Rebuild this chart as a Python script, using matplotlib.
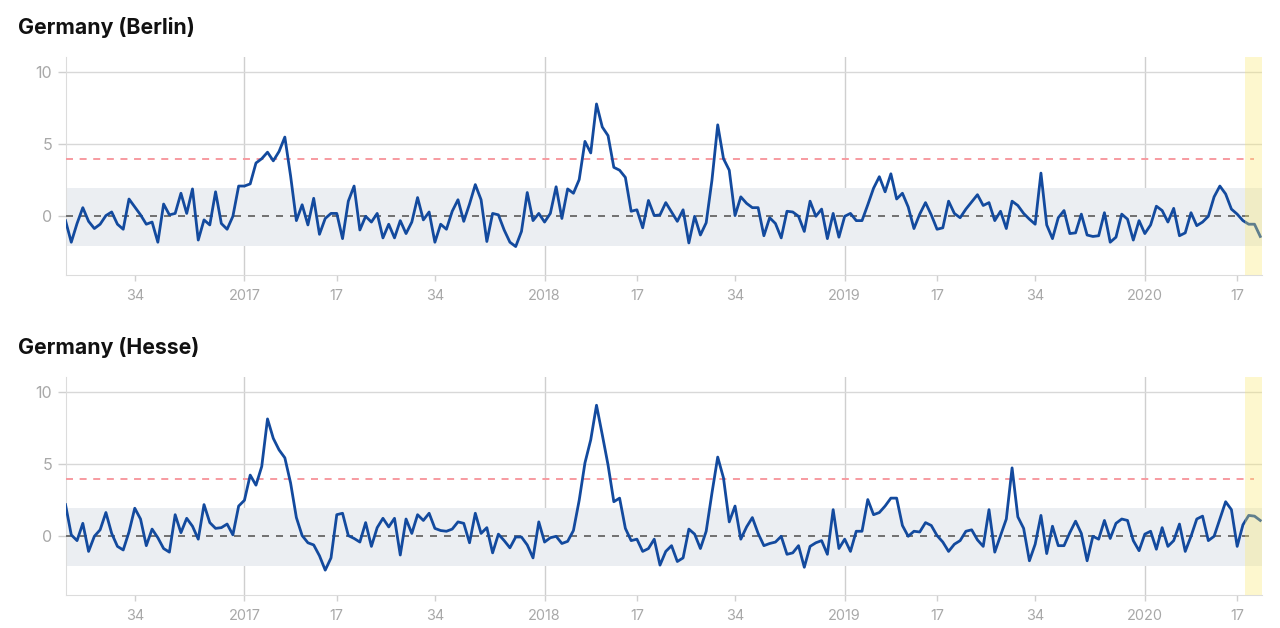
import matplotlib
matplotlib.use('Agg')
import matplotlib.pyplot as plt

berlin = [-0.3, -1.8, -0.5, 0.6, -0.35, -0.85, -0.55, 0.05, 0.3, -0.55,
          -0.9, 1.2, 0.65, 0.1, -0.55, -0.4, -1.8, 0.85, 0.1, 0.2,
          1.6, 0.2, 1.9, -1.65, -0.25, -0.6, 1.7, -0.5, -0.9, 0.0,
          2.1, 2.1, 2.25, 3.7, 4.0, 4.45, 3.85, 4.5, 5.5, 2.8,
          -0.3, 0.8, -0.6, 1.25, -1.25, -0.15, 0.2, 0.2, -1.55, 1.05,
          2.1, -0.95, 0.0, -0.4, 0.2, -1.5, -0.55, -1.5, -0.3, -1.2,
          -0.4, 1.3, -0.25, 0.3, -1.8, -0.55, -0.9, 0.35, 1.15, -0.35,
          0.85, 2.2, 1.15, -1.75, 0.2, 0.1, -0.95, -1.8, -2.1, -1.05,
          1.65, -0.3, 0.2, -0.4, 0.2, 2.05, -0.15, 1.9, 1.6, 2.55,
          5.2, 4.4, 7.8, 6.2, 5.6, 3.4, 3.2, 2.7, 0.35, 0.45,
          -0.8, 1.1, 0.05, 0.1, 0.95, 0.3, -0.35, 0.45, -1.85, 0.0,
          -1.3, -0.45, 2.5, 6.35, 4.0, 3.2, 0.05, 1.35, 0.9, 0.6,
          0.6, -1.35, -0.1, -0.5, -1.5, 0.35, 0.3, 0.0, -1.05, 1.05,
          0.0, 0.5, -1.55, 0.2, -1.45, 0.0, 0.2, -0.3, -0.3, 0.8,
          1.95, 2.75, 1.7, 2.95, 1.2, 1.6, 0.65, -0.85, 0.15, 0.95,
          0.1, -0.9, -0.8, 1.05, 0.2, -0.1, 0.5, 1.0, 1.5, 0.75,
          0.95, -0.3, 0.35, -0.85, 1.05, 0.75, 0.2, -0.2, -0.55, 3.0,
          -0.6, -1.55, -0.1, 0.4, -1.2, -1.15, 0.15, -1.3, -1.4, -1.35,
          0.25, -1.8, -1.45, 0.15, -0.2, -1.65, -0.3, -1.2, -0.6, 0.7,
          0.4, -0.4, 0.55, -1.35, -1.15, 0.25, -0.65, -0.4, 0.0, 1.35,
          2.1, 1.55, 0.5, 0.15, -0.3, -0.55, -0.55, -1.4]

hesse = [2.2, 0.1, -0.3, 0.9, -1.05, 0.0, 0.45, 1.65, 0.2, -0.7,
         -0.95, 0.3, 1.95, 1.2, -0.65, 0.5, -0.1, -0.85, -1.1, 1.5,
         0.25, 1.25, 0.7, -0.2, 2.2, 0.95, 0.55, 0.6, 0.85, 0.1,
         2.1, 2.5, 4.25, 3.55, 4.85, 8.15, 6.8, 6.0, 5.45, 3.7,
         1.3, 0.05, -0.45, -0.6, -1.35, -2.35, -1.5, 1.5, 1.6, 0.05,
         -0.15, -0.4, 0.95, -0.7, 0.6, 1.25, 0.65, 1.25, -1.3, 1.2,
         0.2, 1.5, 1.1, 1.6, 0.55, 0.4, 0.35, 0.5, 1.0, 0.9,
         -0.45, 1.6, 0.2, 0.6, -1.15, 0.15, -0.3, -0.8, -0.05, -0.05,
         -0.6, -1.5, 1.0, -0.4, -0.1, 0.0, -0.5, -0.35, 0.4, 2.5,
         5.1, 6.7, 9.1, 7.05, 4.95, 2.4, 2.65, 0.55, -0.3, -0.2,
         -1.05, -0.85, -0.2, -2.0, -1.05, -0.65, -1.75, -1.5, 0.5, 0.15,
         -0.85, 0.35, 3.0, 5.5, 4.05, 1.0, 2.1, -0.2, 0.65, 1.3,
         0.2, -0.65, -0.5, -0.4, 0.0, -1.25, -1.15, -0.65, -2.15, -0.7,
         -0.45, -0.3, -1.25, 1.85, -0.85, -0.2, -1.05, 0.35, 0.35, 2.55,
         1.5, 1.65, 2.1, 2.65, 2.65, 0.75, 0.0, 0.35, 0.3, 0.95,
         0.75, 0.05, -0.4, -1.05, -0.55, -0.3, 0.35, 0.45, -0.25, -0.7,
         1.85, -1.1, 0.05, 1.2, 4.75, 1.35, 0.55, -1.7, -0.55, 1.45,
         -1.2, 0.7, -0.65, -0.65, 0.25, 1.05, 0.2, -1.7, 0.0, -0.2,
         1.1, -0.15, 0.9, 1.2, 1.1, -0.3, -1.0, 0.15, 0.35, -0.9,
         0.6, -0.7, -0.3, 0.85, -1.05, 0.0, 1.2, 1.4, -0.3, 0.0,
         1.2, 2.4, 1.85, -0.7, 0.8, 1.45, 1.4, 1.1]

tick_weeks = [12, 31, 47, 64, 83, 99, 116, 135, 151, 168, 187, 203]
tick_labels = ['34', '2017', '17', '34', '2018', '17', '34', '2019', '17', '34', '2020', '17']
y_ticks = [0, 5, 10]
titles = ['Germany (Berlin)', 'Germany (Hesse)']

plt.rcParams['font.family'] = 'Inter'
plt.rcParams['text.color'] = '#111111'


class Plotter():

    def __init__(self):

        plt.figure(figsize=(12.8, 6.28), dpi=100)
        self.__width = 1280.0
        self.__height = 628.0

    def plotPanel(self, title, values, top):

        ''' axes box is given in pixels of the picture '''
        plt.axes([65.5 / self.__width, 1 - (top + 218) / self.__height,
                  1196.5 / self.__width, 218 / self.__height])
        plt.figtext(18 / self.__width, 1 - (top - 30) / self.__height, title,
                    fontsize=15.3, fontweight='bold', va='center')

        self.__plotGrid()
        self.__plotReference()
        plt.plot(range(len(values)), values, color='#134a9e', linewidth=2.0, zorder=5)
        ''' forecast weeks sit below a see through yellow stripe '''
        plt.axvspan(204.3, 207.4, color='#fbe96b', alpha=0.33, linewidth=0, zorder=6)

        plt.xlim(0, 207.3)
        plt.ylim(-4.097, 11.04)

    def __plotGrid(self):

        plt.xticks(tick_weeks, tick_labels, fontsize=10.4, color='#a8a8a8')
        plt.yticks(y_ticks, fontsize=11.5, color='#a8a8a8')
        plt.tick_params(axis='x', length=4, width=1, color='#d0d0d0', pad=6)
        plt.tick_params(axis='y', length=5.5, width=1, color='#d0d0d0', pad=4)
        plt.grid(True, axis='y', color='#d8d8d8', linewidth=1, zorder=0)

        for week, label in zip(tick_weeks, tick_labels):
            if len(label) == 4:
                plt.axvline(week, color='#cfcfcf', linewidth=1, zorder=1)

        for side in ['top', 'right']:
            plt.gca().spines[side].set_visible(False)
        for side in ['left', 'bottom']:
            plt.gca().spines[side].set_color('#dcdcdc')

    def __plotReference(self):

        plt.axhspan(-2.05, 1.97, color='#ebeef2', linewidth=0, zorder=2)
        plt.hlines(0, 0, 206, color='#707070', linewidth=1.4, linestyles=(0, (3.6, 3.6)), zorder=3)
        plt.hlines(4, 0, 206, color='#f79aa0', linewidth=1.4, linestyles=(0, (3.6, 3.4)), zorder=3)

    def saveFigure(self):
        plt.savefig('out.png', dpi=100)


plotter = Plotter()
plotter.plotPanel(titles[0], berlin, 57.3)
plotter.plotPanel(titles[1], hesse, 377.3)
plotter.saveFigure()
